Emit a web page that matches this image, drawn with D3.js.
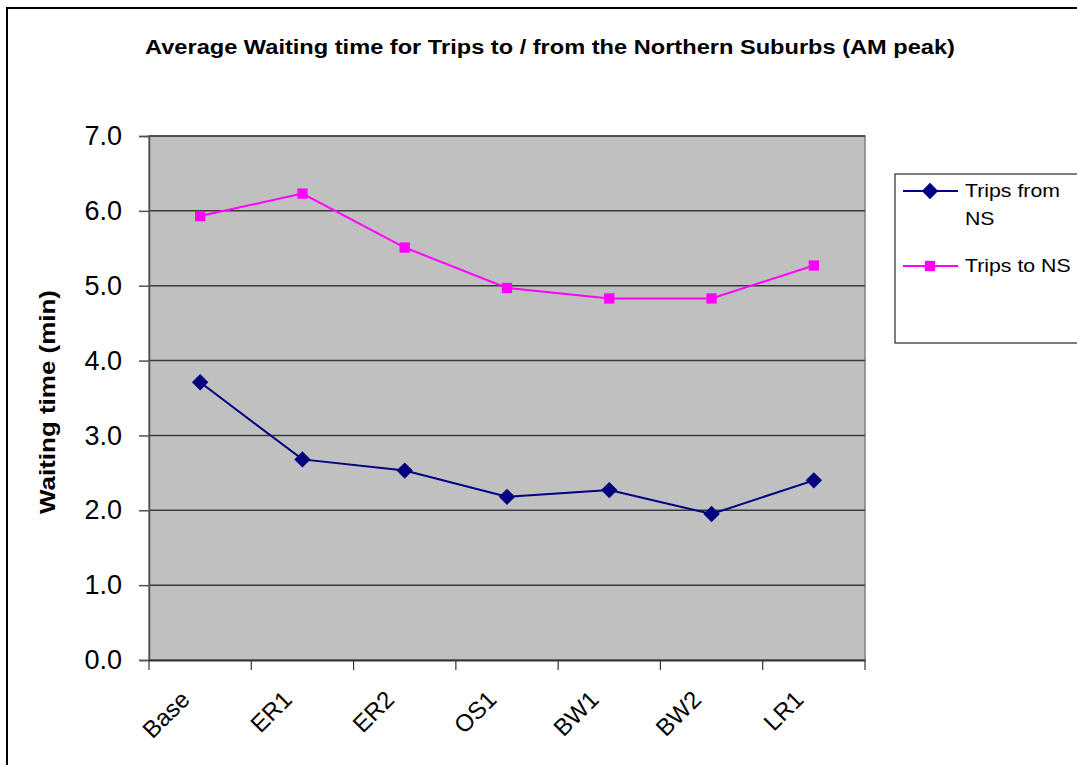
<!DOCTYPE html>
<html lang="en">
<head>
<meta charset="UTF-8">
<title>Average Waiting time</title>
<script src="https://d3js.org/d3.v7.min.js"></script>
<style>
  body { margin: 0; background: #fff; font-family: 'Liberation Sans', Arial, sans-serif; }
  svg { display: block; }
</style>
</head>
<body>
<svg width="1077" height="765"></svg>
<script>
const categories = ["Base", "ER1", "ER2", "OS1", "BW1", "BW2", "LR1"];
const tripsFrom = [3.71, 2.68, 2.53, 2.18, 2.27, 1.95, 2.40];
const tripsTo = [5.93, 6.23, 5.51, 4.97, 4.83, 4.83, 5.27];
const yTicks = [0, 1, 2, 3, 4, 5, 6, 7];

const plot = { left: 149, right: 865, top: 136, bottom: 660 };
const svg = d3.select("svg");

// widen text a bit, the original font runs wider than Liberation Sans
function stretch(sel, k) {
    sel.each(function () {
        const w = this.getComputedTextLength();
        d3.select(this).attr("textLength", w * k).attr("lengthAdjust", "spacingAndGlyphs");
    });
}

// outer frame
svg.append("rect")
    .attr("x", 7).attr("y", 8).attr("width", 1100).attr("height", 800)
    .attr("fill", "#fff").attr("stroke", "#000").attr("stroke-width", 2);

const x = d3.scaleBand().domain(categories).range([plot.left, plot.right]).padding(0);
const y = d3.scaleLinear().domain([0, 7]).range([plot.bottom, plot.top]);
const cx = d => x(d) + x.bandwidth() / 2;

svg.append("rect")
    .attr("x", plot.left).attr("y", plot.top)
    .attr("width", plot.right - plot.left).attr("height", plot.bottom - plot.top)
    .attr("fill", "#c0c0c0").attr("stroke", "#808080").attr("stroke-width", 1.5);

// grid lines
svg.append("g").selectAll("line")
    .data(yTicks.slice(1))
    .join("line")
    .attr("x1", plot.left).attr("x2", plot.right)
    .attr("y1", d => y(d)).attr("y2", d => y(d))
    .attr("stroke", "#3a3a3a").attr("stroke-width", 1.5);

// y axis
const yAxis = svg.append("g")
    .attr("transform", `translate(${plot.left},0)`)
    .call(d3.axisLeft(y).tickValues(yTicks).tickFormat(d3.format(".1f")).tickSize(10).tickPadding(17));
yAxis.select(".domain").attr("stroke", "#505050").attr("stroke-width", 1.5);
yAxis.selectAll(".tick line").attr("stroke", "#505050").attr("stroke-width", 1.5);
yAxis.selectAll("text").attr("font-size", 27).attr("fill", "#000")
    .attr("font-family", "'Liberation Sans', Arial, sans-serif");

// x axis
const xAxis = svg.append("g")
    .attr("transform", `translate(0,${plot.bottom})`)
    .call(d3.axisBottom(x).tickSize(0).tickFormat(""));
xAxis.select(".domain").attr("stroke", "#333").attr("stroke-width", 2);
xAxis.selectAll(".tick").remove();

svg.append("g").selectAll("line")
    .data(categories.concat(["_end"]))
    .join("line")
    .attr("x1", (d, i) => i < categories.length ? x(d) : plot.right)
    .attr("x2", (d, i) => i < categories.length ? x(d) : plot.right)
    .attr("y1", plot.bottom).attr("y2", plot.bottom + 10)
    .attr("stroke", "#333").attr("stroke-width", 1.2);

svg.append("g").selectAll("text")
    .data(categories)
    .join("text")
    .attr("transform", d => `translate(${cx(d) - 9},${plot.bottom + 41}) rotate(-45)`)
    .attr("text-anchor", "end")
    .attr("font-size", 24)
    .text(d => d);

// series
const series = [
    { name: "Trips from NS", values: tripsFrom, color: "#000080", symbol: d3.symbolDiamond2, size: 170 },
    { name: "Trips to NS", values: tripsTo, color: "#ff00ff", symbol: d3.symbolSquare2, size: 135 }
];

const line = d3.line().x(d => cx(d.cat)).y(d => y(d.v));

series.forEach(s => {
    const pts = categories.map((c, i) => ({ cat: c, v: s.values[i] }));
    svg.append("path")
        .datum(pts)
        .attr("d", line)
        .attr("fill", "none")
        .attr("stroke", s.color)
        .attr("stroke-width", 2);
    svg.append("g").selectAll("path")
        .data(pts)
        .join("path")
        .attr("transform", d => `translate(${cx(d.cat)},${y(d.v)})`)
        .attr("d", d3.symbol().type(s.symbol).size(s.size))
        .attr("fill", s.color);
});

// title
svg.append("text")
    .attr("x", 550).attr("y", 54)
    .attr("text-anchor", "middle")
    .attr("font-size", 20).attr("font-weight", "bold")
    .text("Average Waiting time for Trips to / from the Northern Suburbs (AM peak)")
    .call(stretch, 1.18);

// y label
svg.append("text")
    .attr("transform", `translate(55,${(plot.top + plot.bottom) / 2 + 4}) rotate(-90)`)
    .attr("text-anchor", "middle")
    .attr("font-size", 22).attr("font-weight", "bold")
    .text("Waiting time (min)")
    .call(stretch, 1.18);

// legend
const legend = svg.append("g");
legend.append("rect")
    .attr("x", 895).attr("y", 174).attr("width", 200).attr("height", 169)
    .attr("fill", "#fff").attr("stroke", "#000").attr("stroke-width", 1);

const legendRows = [
    { s: series[0], y: 191, lines: ["Trips from", "NS"] },
    { s: series[1], y: 266, lines: ["Trips to NS"] }
];
legendRows.forEach(r => {
    legend.append("line")
        .attr("x1", 903).attr("x2", 958).attr("y1", r.y).attr("y2", r.y)
        .attr("stroke", r.s.color).attr("stroke-width", 2);
    legend.append("path")
        .attr("transform", `translate(930,${r.y})`)
        .attr("d", d3.symbol().type(r.s.symbol).size(r.s.size))
        .attr("fill", r.s.color);
    r.lines.forEach((l, i) => {
        legend.append("text")
            .attr("x", 965).attr("y", r.y + 6 + i * 28)
            .attr("font-size", 19)
            .text(l)
            .call(stretch, 1.12);
    });
});
</script>
</body>
</html>
